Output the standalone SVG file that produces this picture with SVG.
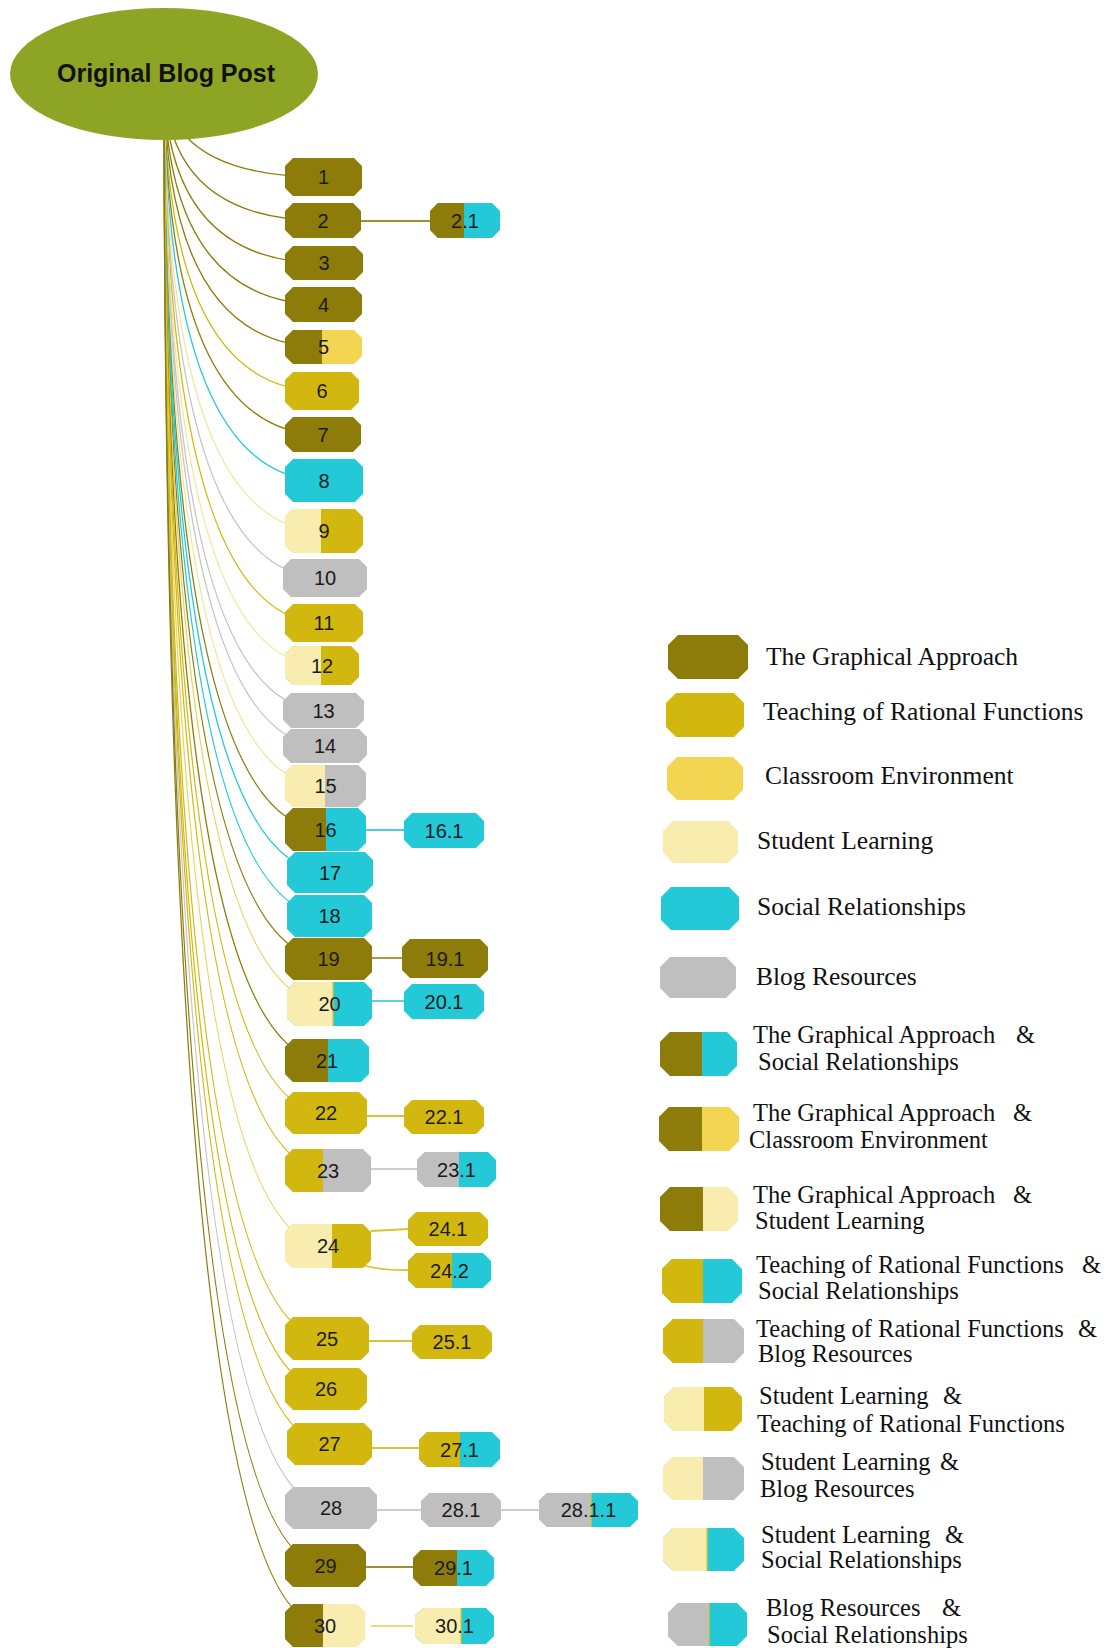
<svg xmlns="http://www.w3.org/2000/svg" width="1107" height="1648" viewBox="0 0 1107 1648">
<style>
  .O{fill:#8e7c0a}.G{fill:#d2b80e}.C{fill:#f2d651}.S{fill:#f8ecae}.R{fill:#23c9d7}.B{fill:#bfbfbf}
  .lbl{font-family:"Liberation Sans",Arial,sans-serif;font-size:20px;fill:#1b1b1b;text-anchor:middle}
  .leg{font-family:"Liberation Serif","Times New Roman",serif;font-size:25.5px;fill:#111}
  .leg2{font-family:"Liberation Serif","Times New Roman",serif;font-size:24.5px;fill:#111}
  .root{font-family:"Liberation Sans",Arial,sans-serif;font-size:25px;font-weight:bold;fill:#111;text-anchor:middle}
  #edges path{fill:none;stroke-width:1.3}
  #links path{fill:none;stroke-width:1.8;opacity:.85}
  .eO{stroke:#8e7c0a}.eG{stroke:#d2b80e}.eS{stroke:#f5e59c}.eY{stroke:#ecd35c}.eR{stroke:#23c9d7}.eB{stroke:#c4c4c4}
  .div{stroke:#e2c62a;stroke-width:1.2}
</style>

<!-- curved branches from the root to each numbered comment -->
<g id="edges">
  <path class="eO" d="M164,74Q164,177 323.5,177"/>
  <path class="eO" d="M164,74Q164,220.5 323,220.5"/>
  <path class="eO" d="M164,74Q164,263 324,263"/>
  <path class="eO" d="M164,74Q164,304.5 323.5,304.5"/>
  <path class="eO" d="M164,74Q164,347 323.5,347"/>
  <path class="eG" d="M164,74Q164,391 322,391"/>
  <path class="eO" d="M164,74Q164,434.5 323,434.5"/>
  <path class="eR" d="M164,74Q164,480.5 324,480.5"/>
  <path class="eS" d="M164,74Q164,531 324,531"/>
  <path class="eB" d="M164,74Q164,578 325,578"/>
  <path class="eG" d="M164,74Q164,623 324,623"/>
  <path class="eS" d="M164,74Q164,665.5 322,665.5"/>
  <path class="eB" d="M164,74Q164,710.5 323.5,710.5"/>
  <path class="eB" d="M164,74Q164,746 325,746"/>
  <path class="eS" d="M164,74Q164,786 325.5,786"/>
  <path class="eO" d="M164,74Q164,829.5 325.5,829.5"/>
  <path class="eR" d="M164,74Q164,872.5 330,872.5"/>
  <path class="eR" d="M164,74Q164,916 329.5,916"/>
  <path class="eO" d="M164,74Q164,959 328.5,959"/>
  <path class="eY" d="M164,74Q164,1004 329.5,1004"/>
  <path class="eO" d="M164,74Q164,1060.5 327,1060.5"/>
  <path class="eG" d="M164,74Q164,1113 326,1113"/>
  <path class="eG" d="M164,74Q164,1170.5 328,1170.5"/>
  <path class="eY" d="M164,74Q164,1246 328,1246"/>
  <path class="eG" d="M164,74Q164,1338.5 327,1338.5"/>
  <path class="eG" d="M164,74Q164,1389 326,1389"/>
  <path class="eG" d="M164,74Q164,1444 329.5,1444"/>
  <path class="eB" d="M164,74Q164,1508 331,1508"/>
  <path class="eO" d="M164,74Q164,1565.5 325.5,1565.5"/>
  <path class="eO" d="M164,74Q164,1625.5 325,1625.5"/>
</g>

<!-- straight links from comments to replies -->
<g id="links">
  <path class="eO" d="M361,221H430"/>
  <path class="eR" d="M366,830H404"/>
  <path class="eO" d="M372,958H402"/>
  <path class="eR" d="M372,1001H404"/>
  <path class="eG" d="M367,1116H404"/>
  <path class="eB" d="M371,1169H417"/>
  <path class="eG" d="M371,1231L408,1229"/>
  <path class="eG" d="M362,1265Q384,1271 408,1270"/>
  <path class="eG" d="M369,1341H412"/>
  <path class="eG" d="M372,1448H419"/>
  <path class="eB" d="M377,1510H421"/>
  <path class="eB" d="M501,1510H539"/>
  <path class="eO" d="M366,1567H413"/>
  <path class="eY" d="M371,1626H413"/>
</g>

<!-- root -->
<g id="root">
  <ellipse cx="164" cy="74" rx="154" ry="66" fill="#8ea424"/>
  <text class="root" x="166" y="82">Original Blog Post</text>
</g>

<!-- comment nodes -->
<g id="n1"><path class="O" d="M293,158H354L362,166V188L354,196H293L285,188V166Z"/><text class="lbl" x="323.5" y="184">1</text></g>
<g id="n2"><path class="O" d="M293,203H353L361,211V230L353,238H293L285,230V211Z"/><text class="lbl" x="323" y="227.5">2</text></g>
<g id="n2-1"><path class="R" d="M438,203H492L500,211V230L492,238H438L430,230V211Z"/><path class="O" d="M438,203H464V238H438L430,230V211Z"/><text class="lbl" x="465" y="227.5">2.1</text></g>
<g id="n3"><path class="O" d="M293,246H355L363,254V272L355,280H293L285,272V254Z"/><text class="lbl" x="324" y="270">3</text></g>
<g id="n4"><path class="O" d="M293,287H354L362,295V314L354,322H293L285,314V295Z"/><text class="lbl" x="323.5" y="311.5">4</text></g>
<g id="n5"><path class="C" d="M293,330H354L362,338V356L354,364H293L285,356V338Z"/><path class="O" d="M293,330H322V364H293L285,356V338Z"/><text class="lbl" x="323.5" y="354">5</text></g>
<g id="n6"><path class="G" d="M293,372H351L359,380V402L351,410H293L285,402V380Z"/><text class="lbl" x="322" y="398">6</text></g>
<g id="n7"><path class="O" d="M293,417H353L361,425V444L353,452H293L285,444V425Z"/><text class="lbl" x="323" y="441.5">7</text></g>
<g id="n8"><path class="R" d="M293,459H355L363,467V494L355,502H293L285,494V467Z"/><text class="lbl" x="324" y="487.5">8</text></g>
<g id="n9"><path class="G" d="M293,509H355L363,517V545L355,553H293L285,545V517Z"/><path class="S" d="M293,509H321V553H293L285,545V517Z"/><text class="lbl" x="324" y="538">9</text></g>
<g id="n10"><path class="B" d="M291,559H359L367,567V589L359,597H291L283,589V567Z"/><text class="lbl" x="325" y="585">10</text></g>
<g id="n11"><path class="G" d="M293,604H355L363,612V634L355,642H293L285,634V612Z"/><text class="lbl" x="324" y="630">11</text></g>
<g id="n12"><path class="G" d="M293,646H351L359,654V677L351,685H293L285,677V654Z"/><path class="S" d="M293,646H321V685H293L285,677V654Z"/><text class="lbl" x="322" y="672.5">12</text></g>
<g id="n13"><path class="B" d="M291,693H356L364,701V720L356,728H291L283,720V701Z"/><text class="lbl" x="323.5" y="717.5">13</text></g>
<g id="n14"><path class="B" d="M291,729H359L367,737V755L359,763H291L283,755V737Z"/><text class="lbl" x="325" y="753">14</text></g>
<g id="n15"><path class="B" d="M293,765H358L366,773V799L358,807H293L285,799V773Z"/><path class="S" d="M293,765H325V807H293L285,799V773Z"/><text class="lbl" x="325.5" y="793">15</text></g>
<g id="n16"><path class="R" d="M293,808H358L366,816V843L358,851H293L285,843V816Z"/><path class="O" d="M293,808H326V851H293L285,843V816Z"/><text class="lbl" x="325.5" y="836.5">16</text></g>
<g id="n16-1"><path class="R" d="M412,813H476L484,821V840L476,848H412L404,840V821Z"/><text class="lbl" x="444" y="837.5">16.1</text></g>
<g id="n17"><path class="R" d="M295,852H365L373,860V885L365,893H295L287,885V860Z"/><text class="lbl" x="330" y="879.5">17</text></g>
<g id="n18"><path class="R" d="M295,895H364L372,903V929L364,937H295L287,929V903Z"/><text class="lbl" x="329.5" y="923">18</text></g>
<g id="n19"><path class="O" d="M293,938H364L372,946V972L364,980H293L285,972V946Z"/><text class="lbl" x="328.5" y="966">19</text></g>
<g id="n19-1"><path class="O" d="M410,939H480L488,947V970L480,978H410L402,970V947Z"/><text class="lbl" x="445" y="965.5">19.1</text></g>
<g id="n20"><path class="R" d="M295,982H364L372,990V1018L364,1026H295L287,1018V990Z"/><path class="S" d="M295,982H333V1026H295L287,1018V990Z"/><line class="div" x1="333" y1="982" x2="333" y2="1026"/><text class="lbl" x="329.5" y="1011">20</text></g>
<g id="n20-1"><path class="R" d="M412,984H476L484,992V1011L476,1019H412L404,1011V992Z"/><text class="lbl" x="444" y="1008.5">20.1</text></g>
<g id="n21"><path class="R" d="M293,1039H361L369,1047V1074L361,1082H293L285,1074V1047Z"/><path class="O" d="M293,1039H328V1082H293L285,1074V1047Z"/><text class="lbl" x="327" y="1067.5">21</text></g>
<g id="n22"><path class="G" d="M293,1092H359L367,1100V1126L359,1134H293L285,1126V1100Z"/><text class="lbl" x="326" y="1120">22</text></g>
<g id="n22-1"><path class="G" d="M412,1100H476L484,1108V1126L476,1134H412L404,1126V1108Z"/><text class="lbl" x="444" y="1124">22.1</text></g>
<g id="n23"><path class="B" d="M293,1149H363L371,1157V1184L363,1192H293L285,1184V1157Z"/><path class="G" d="M293,1149H323V1192H293L285,1184V1157Z"/><text class="lbl" x="328" y="1177.5">23</text></g>
<g id="n23-1"><path class="R" d="M425,1152H488L496,1160V1179L488,1187H425L417,1179V1160Z"/><path class="B" d="M425,1152H459V1187H425L417,1179V1160Z"/><text class="lbl" x="456.5" y="1176.5">23.1</text></g>
<g id="n24"><path class="G" d="M293,1224H363L371,1232V1260L363,1268H293L285,1260V1232Z"/><path class="S" d="M293,1224H332V1268H293L285,1260V1232Z"/><text class="lbl" x="328" y="1253">24</text></g>
<g id="n24-1"><path class="G" d="M416,1212H480L488,1220V1238L480,1246H416L408,1238V1220Z"/><text class="lbl" x="448" y="1236">24.1</text></g>
<g id="n24-2"><path class="R" d="M416,1253H483L491,1261V1280L483,1288H416L408,1280V1261Z"/><path class="G" d="M416,1253H452V1288H416L408,1280V1261Z"/><text class="lbl" x="449.5" y="1277.5">24.2</text></g>
<g id="n25"><path class="G" d="M293,1317H361L369,1325V1352L361,1360H293L285,1352V1325Z"/><text class="lbl" x="327" y="1345.5">25</text></g>
<g id="n25-1"><path class="G" d="M420,1325H484L492,1333V1351L484,1359H420L412,1351V1333Z"/><text class="lbl" x="452" y="1349">25.1</text></g>
<g id="n26"><path class="G" d="M293,1368H359L367,1376V1402L359,1410H293L285,1402V1376Z"/><text class="lbl" x="326" y="1396">26</text></g>
<g id="n27"><path class="G" d="M295,1423H364L372,1431V1457L364,1465H295L287,1457V1431Z"/><text class="lbl" x="329.5" y="1451">27</text></g>
<g id="n27-1"><path class="R" d="M427,1432H492L500,1440V1459L492,1467H427L419,1459V1440Z"/><path class="G" d="M427,1432H460V1467H427L419,1459V1440Z"/><text class="lbl" x="459.5" y="1456.5">27.1</text></g>
<g id="n28"><path class="B" d="M293,1487H369L377,1495V1521L369,1529H293L285,1521V1495Z"/><text class="lbl" x="331" y="1515">28</text></g>
<g id="n28-1"><path class="B" d="M429,1493H493L501,1501V1519L493,1527H429L421,1519V1501Z"/><text class="lbl" x="461" y="1517">28.1</text></g>
<g id="n28-1-1"><path class="R" d="M547,1493H630L638,1501V1519L630,1527H547L539,1519V1501Z"/><path class="B" d="M547,1493H591V1527H547L539,1519V1501Z"/><line class="div" x1="591" y1="1493" x2="591" y2="1527"/><text class="lbl" x="588.5" y="1517">28.1.1</text></g>
<g id="n29"><path class="O" d="M293,1544H358L366,1552V1579L358,1587H293L285,1579V1552Z"/><text class="lbl" x="325.5" y="1572.5">29</text></g>
<g id="n29-1"><path class="R" d="M421,1550H486L494,1558V1578L486,1586H421L413,1578V1558Z"/><path class="O" d="M421,1550H457V1586H421L413,1578V1558Z"/><text class="lbl" x="453.5" y="1575">29.1</text></g>
<g id="n30"><path class="S" d="M293,1604H357L365,1612V1639L357,1647H293L285,1639V1612Z"/><path class="O" d="M293,1604H323V1647H293L285,1639V1612Z"/><text class="lbl" x="325" y="1632.5">30</text></g>
<g id="n30-1"><path class="R" d="M423,1608H486L494,1616V1636L486,1644H423L415,1636V1616Z"/><path class="S" d="M423,1608H461V1644H423L415,1636V1616Z"/><line class="div" x1="461" y1="1608" x2="461" y2="1644"/><text class="lbl" x="454.5" y="1633">30.1</text></g>

<!-- legend -->
<g id="legend">
  <g id="key-graphical"><path class="O" d="M678,635H738L748,645V669L738,679H678L668,669V645Z"/><text class="leg" x="766" y="665">The Graphical Approach</text></g>
  <g id="key-teaching"><path class="G" d="M676,693H734L744,703V727L734,737H676L666,727V703Z"/><text class="leg" x="763" y="720">Teaching of Rational Functions</text></g>
  <g id="key-classroom"><path class="C" d="M677,757H733L743,767V790L733,800H677L667,790V767Z"/><text class="leg" x="765" y="784">Classroom Environment</text></g>
  <g id="key-learning"><path class="S" d="M673,821H728L738,831V853L728,863H673L663,853V831Z"/><text class="leg" x="757" y="849">Student Learning</text></g>
  <g id="key-social"><path class="R" d="M671,887H729L739,897V920L729,930H671L661,920V897Z"/><text class="leg" x="757" y="915">Social Relationships</text></g>
  <g id="key-blog"><path class="B" d="M670,957H726L736,967V988L726,998H670L660,988V967Z"/><text class="leg" x="756" y="985">Blog Resources</text></g>

  <g id="key-graphical-social"><path class="R" d="M670,1032H727L737,1042V1066L727,1076H670L660,1066V1042Z"/><path class="O" d="M670,1032H702V1076H670L660,1066V1042Z"/>
    <text class="leg2" x="753" y="1043">The Graphical Approach<tspan x="1016">&amp;</tspan></text><text class="leg2" x="758" y="1070">Social Relationships</text></g>
  <g id="key-graphical-classroom"><path class="C" d="M669,1107H729L739,1117V1141L729,1151H669L659,1141V1117Z"/><path class="O" d="M669,1107H702V1151H669L659,1141V1117Z"/>
    <text class="leg2" x="753" y="1121">The Graphical Approach<tspan x="1013">&amp;</tspan></text><text class="leg2" x="749" y="1148">Classroom Environment</text></g>
  <g id="key-graphical-learning"><path class="S" d="M670,1187H728L738,1197V1221L728,1231H670L660,1221V1197Z"/><path class="O" d="M670,1187H703V1231H670L660,1221V1197Z"/>
    <text class="leg2" x="753" y="1203">The Graphical Approach<tspan x="1013">&amp;</tspan></text><text class="leg2" x="755" y="1229">Student Learning</text></g>
  <g id="key-teaching-social"><path class="R" d="M672,1259H732L742,1269V1293L732,1303H672L662,1293V1269Z"/><path class="G" d="M672,1259H703V1303H672L662,1293V1269Z"/>
    <text class="leg2" x="756" y="1273">Teaching of Rational Functions<tspan x="1082">&amp;</tspan></text><text class="leg2" x="758" y="1299">Social Relationships</text></g>
  <g id="key-teaching-blog"><path class="B" d="M673,1319H734L744,1329V1353L734,1363H673L663,1353V1329Z"/><path class="G" d="M673,1319H703V1363H673L663,1353V1329Z"/>
    <text class="leg2" x="756" y="1337">Teaching of Rational Functions<tspan x="1078">&amp;</tspan></text><text class="leg2" x="758" y="1362">Blog Resources</text></g>
  <g id="key-learning-teaching"><path class="G" d="M674,1387H732L742,1397V1421L732,1431H674L664,1421V1397Z"/><path class="S" d="M674,1387H704V1431H674L664,1421V1397Z"/>
    <text class="leg2" x="759" y="1404">Student Learning<tspan x="943">&amp;</tspan></text><text class="leg2" x="757" y="1432">Teaching of Rational Functions</text></g>
  <g id="key-learning-blog"><path class="B" d="M673,1457H734L744,1467V1490L734,1500H673L663,1490V1467Z"/><path class="S" d="M673,1457H703V1500H673L663,1490V1467Z"/>
    <text class="leg2" x="761" y="1470">Student Learning<tspan x="940">&amp;</tspan></text><text class="leg2" x="760" y="1497">Blog Resources</text></g>
  <g id="key-learning-social"><path class="R" d="M673,1528H734L744,1538V1561L734,1571H673L663,1561V1538Z"/><path class="S" d="M673,1528H707V1571H673L663,1561V1538Z"/><line class="div" x1="707" y1="1528" x2="707" y2="1571"/>
    <text class="leg2" x="761" y="1543">Student Learning<tspan x="945">&amp;</tspan></text><text class="leg2" x="761" y="1568">Social Relationships</text></g>
  <g id="key-blog-social"><path class="R" d="M678,1603H737L747,1613V1636L737,1646H678L668,1636V1613Z"/><path class="B" d="M678,1603H709V1646H678L668,1636V1613Z"/><line class="div" x1="709" y1="1603" x2="709" y2="1646"/>
    <text class="leg2" x="766" y="1616">Blog Resources<tspan x="942">&amp;</tspan></text><text class="leg2" x="767" y="1643">Social Relationships</text></g>
</g>
</svg>
